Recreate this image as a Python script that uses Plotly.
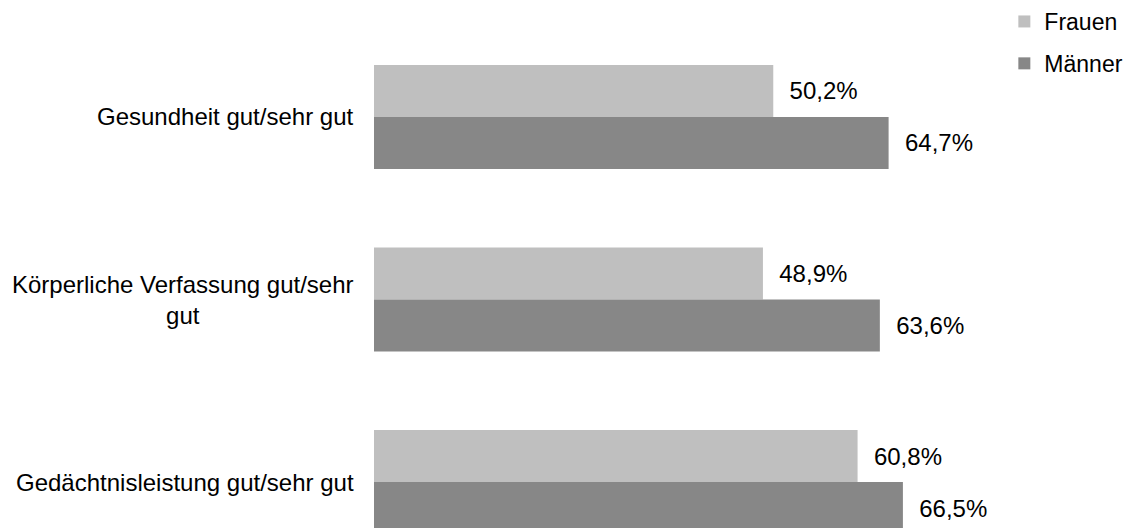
import plotly.graph_objects as go

categories = ['Gesundheit gut/sehr gut',
              'Körperliche Verfassung gut/sehr<br>gut',
              'Gedächtnisleistung gut/sehr gut']
frauen = [50.2, 48.9, 60.8]
maenner = [64.7, 63.6, 66.5]

font = dict(family='Liberation Sans, Arial, sans-serif', size=24, color='black')
label = '\u00a0\u00a0%{x:.1f}%'

fig = go.Figure()
fig.add_trace(go.Bar(y=categories, x=frauen, name='Frauen', orientation='h',
                     marker=dict(color='#bfbfbf', line_width=0),
                     texttemplate=label, textposition='outside',
                     textfont=font, cliponaxis=False, constraintext='none',
                     legendgroup='f'))
fig.add_trace(go.Bar(y=categories, x=maenner, name='Männer', orientation='h',
                     marker=dict(color='#878787', line_width=0),
                     texttemplate=label, textposition='outside',
                     textfont=font, cliponaxis=False, constraintext='none',
                     legendgroup='m'))

# category labels as annotations so the wrapped one stays centred
for cat in categories:
    fig.add_annotation(x=0, xref='paper', y=cat, yref='y', text=cat,
                       xanchor='right', xshift=-18, align='center',
                       showarrow=False, font=font)

fig.update_layout(
    width=1128, height=528,
    margin=dict(l=374, r=0, t=0, b=0, autoexpand=False),
    barmode='group', bargap=0.43, bargroupgap=0,
    separators=',.',
    plot_bgcolor='white', paper_bgcolor='white',
    font=font,
    legend=dict(x=0.836, y=1.0, xanchor='left', yanchor='top',
                traceorder='grouped', tracegroupgap=9,
                font=dict(family='Liberation Sans, Arial, sans-serif', size=23, color='black'),
                bgcolor='rgba(0,0,0,0)'),
)
fig.update_xaxes(range=[0, 94.8], visible=False)
fig.update_yaxes(range=[2.252, -0.641], showticklabels=False, showgrid=False,
                 zeroline=False, showline=False, ticks='')

fig.write_html('out.html', config={'displayModeBar': False},
               post_script="document.body.style.margin='0';")
